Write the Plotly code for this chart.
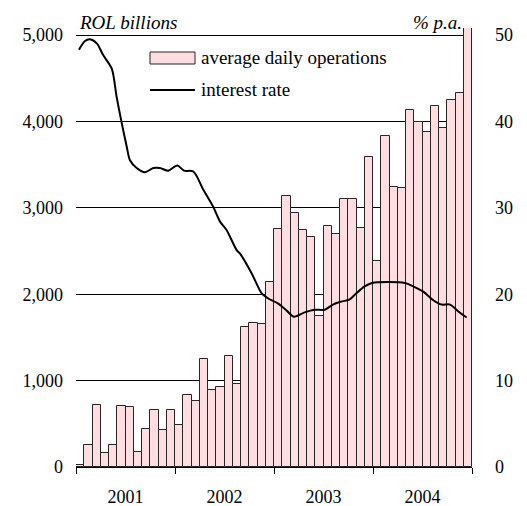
import plotly.graph_objects as go

# ---- data ----
years = [2001, 2002, 2003, 2004]
year_labels = ["2001", "2002", "2003", "2004"]

# average daily operations, ROL billions, monthly Jan 2001 - Dec 2004
ops_2001 = [20, 254, 717, 162, 254, 705, 689, 173, 439, 659, 423, 659]
ops_2002 = [486, 832, 759, 1249, 890, 925, 1290, 955, 1618, 1668, 1653, 2139]
ops_2003 = [2751, 3133, 2943, 2740, 2659, 1746, 2786, 2694, 3098, 3105, 2766, 3584]
ops_2004 = [2380, 3827, 3237, 3225, 4134, 3995, 3880, 4180, 3926, 4243, 4331, 5300]
operations = ops_2001 + ops_2002 + ops_2003 + ops_2004

# interest rate, % p.a. (time in decimal years)
rate_time = [2001.030, 2001.091, 2001.141, 2001.212, 2001.273, 2001.361, 2001.411,
             2001.462, 2001.512, 2001.545, 2001.613, 2001.697, 2001.781, 2001.848,
             2001.932, 2002.023, 2002.091, 2002.185, 2002.286, 2002.387, 2002.455,
             2002.522, 2002.623, 2002.657, 2002.775, 2002.876, 2002.942, 2003.043,
             2003.128, 2003.202, 2003.310, 2003.411, 2003.512, 2003.596, 2003.664,
             2003.765, 2003.831, 2003.916, 2003.990, 2004.323, 2004.407, 2004.508,
             2004.609, 2004.694, 2004.778, 2004.862, 2004.946]
rate_value = [48.3, 49.3, 49.5, 49.0, 47.7, 46.1, 42.8,
              39.8, 37.1, 35.5, 34.6, 34.1, 34.6, 34.6,
              34.3, 34.9, 34.3, 34.2, 32.1, 30.1, 28.4,
              27.4, 25.1, 24.7, 22.4, 20.1, 19.5, 18.9,
              18.1, 17.4, 17.9, 18.2, 18.2, 18.8, 19.1,
              19.4, 20.1, 20.9, 21.3, 21.3, 20.9, 20.3,
              19.3, 18.8, 18.8, 18.0, 17.3]

left_ticks = [0, 1000, 2000, 3000, 4000, 5000]
right_ticks = [0, 10, 20, 30, 40, 50]

# ---- derived ----
bar_x = [years[0] + (i + 0.5) / 12 for i in range(len(operations))]
label_pos = [y + 0.5 for y in years]

FONT = "Liberation Serif"
PINK = "#FFDDE1"

fig = go.Figure()
fig.add_trace(go.Bar(
    x=bar_x, y=operations, width=1 / 12,
    marker=dict(color=PINK, line=dict(color="#262626", width=1)),
    name="average daily operations", yaxis="y", showlegend=False,
))
fig.add_trace(go.Scatter(
    x=rate_time, y=rate_value, mode="lines",
    line=dict(color="black", width=2, shape="spline", smoothing=0.8),
    name="interest rate", yaxis="y2", showlegend=False,
))

# page has an 8px body margin, so the figure is 8px smaller and margins shifted
W, H = 519, 498
ML, MR, MT, MB = 68, 55, 20, 39
plot_w = W - ML - MR
plot_h = H - MT - MB
top_l = 5081

fig.update_layout(
    width=W, height=H,
    margin=dict(l=ML, r=MR, t=MT, b=MB, autoexpand=False),
    paper_bgcolor="white", plot_bgcolor="white",
    font=dict(family=FONT, size=18, color="black"),
    bargap=0,
    xaxis=dict(
        range=[years[0], years[-1] + 1],
        tickvals=label_pos, ticktext=year_labels, ticks="",
        ticklabelstandoff=13, automargin=False,
        showgrid=False, zeroline=False,
        showline=True, linecolor="black", linewidth=1,
        minor=dict(tick0=years[0], dtick=1, ticks="outside", ticklen=6,
                   tickcolor="black", tickwidth=1, showgrid=False),
    ),
    yaxis=dict(
        range=[0, top_l], tickvals=left_ticks, tickformat=",d",
        showgrid=True, gridcolor="black", gridwidth=1,
        zeroline=False, showline=False, ticks="", automargin=False,
        ticklabelstandoff=12,
    ),
    yaxis2=dict(
        range=[0, top_l / 100], tickvals=right_ticks, overlaying="y", side="right",
        showgrid=False, zeroline=False, showline=False, ticks="", automargin=False,
        ticklabelstandoff=22,
    ),
)

# helpers converting page pixel positions of the reference into paper coords
def px(p):
    return (p - 8 - ML) / plot_w

def py(p):
    return (H - MB + 8 - p) / plot_h

# axis unit labels
fig.add_annotation(text="<i>ROL billions</i>", xref="paper", yref="paper",
                   x=px(77), y=py(22), xanchor="left", yanchor="middle",
                   showarrow=False, font=dict(size=19))
fig.add_annotation(text="<i>% p.a.</i>", xref="paper", yref="paper",
                   x=px(464), y=py(22), xanchor="right", yanchor="middle",
                   showarrow=False, font=dict(size=19))

# legend (drawn manually to match the wide swatches)
fig.add_shape(type="rect", xref="paper", yref="paper",
              x0=px(150), x1=px(195), y0=py(64), y1=py(52),
              fillcolor=PINK, line=dict(color="#262626", width=1))
fig.add_shape(type="line", xref="paper", yref="paper",
              x0=px(150), x1=px(195), y0=py(90), y1=py(90),
              line=dict(color="black", width=2))
fig.add_annotation(text="average daily operations", xref="paper", yref="paper",
                   x=px(199), y=py(57), xanchor="left", yanchor="middle",
                   showarrow=False, font=dict(size=19))
fig.add_annotation(text="interest rate", xref="paper", yref="paper",
                   x=px(199), y=py(90), xanchor="left", yanchor="middle",
                   showarrow=False, font=dict(size=19))

fig.write_html("out.html")
